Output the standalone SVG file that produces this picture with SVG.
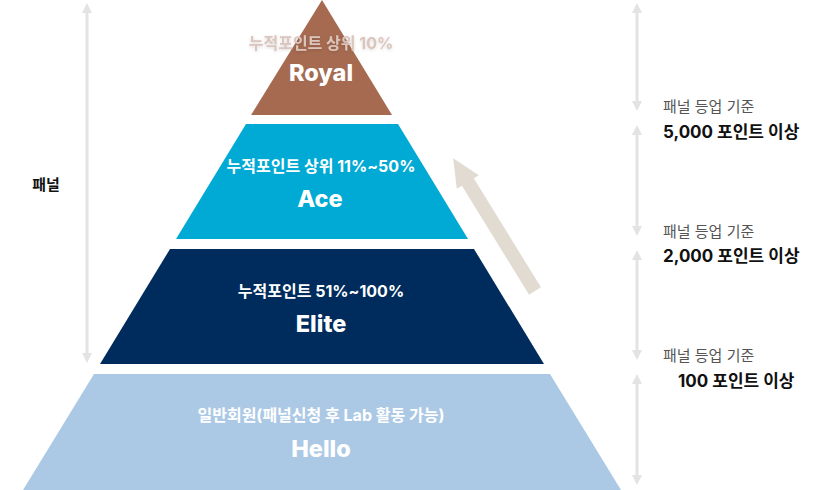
<svg xmlns="http://www.w3.org/2000/svg" width="823" height="490" viewBox="0 0 823 490">
<defs>
<marker id="ah" viewBox="0 0 10 10" refX="5" refY="5" markerWidth="14" markerHeight="10" markerUnits="userSpaceOnUse" orient="auto-start-reverse">
<path d="M0,0 L10,5 L0,10 z" fill="#e3e3e3"/>
</marker>
<filter id="sh" x="-10%" y="-50%" width="120%" height="200%"><feDropShadow dx="0" dy="1" stdDeviation="1.5" flood-color="#000" flood-opacity="0.15"/></filter>
</defs>
<style>
.t{font-family:Inter,"Noto Sans CJK KR",sans-serif;font-weight:700;text-anchor:middle;fill:#fff}
.s{font-size:16px}
.b{font-size:23.5px;font-weight:800}
.g{font-family:Inter,"Noto Sans CJK KR",sans-serif;font-size:15px;fill:#555}
.k{font-family:Inter,"Noto Sans CJK KR",sans-serif;font-size:17px;font-weight:700;fill:#111}
.ln{stroke:#e3e3e3;stroke-width:3;fill:none}
</style>
<rect width="823" height="490" fill="#fff"/>
<g id="connectors">
<line class="ln" x1="87" y1="8" x2="87" y2="358" marker-start="url(#ah)" marker-end="url(#ah)"/>
<line class="ln" x1="637" y1="8" x2="637" y2="106" marker-start="url(#ah)" marker-end="url(#ah)"/>
<line class="ln" x1="637" y1="130" x2="637" y2="231" marker-start="url(#ah)" marker-end="url(#ah)"/>
<line class="ln" x1="637" y1="255" x2="637" y2="355" marker-start="url(#ah)" marker-end="url(#ah)"/>
<line class="ln" x1="637" y1="379" x2="637" y2="480" marker-start="url(#ah)" marker-end="url(#ah)"/>
<polygon transform="translate(535,291) rotate(-121.65)" points="0,-7 128,-7 128,-13 156,0 128,13 128,7 0,7" fill="#e2dbd2"/>
</g>
<g id="royal">
<polygon points="322,0 392,115 251,115" fill="#a56a50"/>
<text class="t s" x="321" y="49" style="fill:#dcc5bd" filter="url(#sh)">누적포인트 상위 10%</text>
<text class="t b" x="321" y="81">Royal</text>
</g>
<g id="ace">
<polygon points="246,124 398,124 468,239 176,239" fill="#00aad4"/>
<text class="t s" x="321" y="172">누적포인트 상위 11%~50%</text>
<text class="t b" x="320" y="207">Ace</text>
</g>
<g id="elite">
<polygon points="170,249 474,249 544,364 100,364" fill="#002b5d"/>
<text class="t s" x="321" y="297">누적포인트 51%~100%</text>
<text class="t b" x="321" y="332">Elite</text>
</g>
<g id="hello">
<polygon points="94,374 550,374 621,490 23,490" fill="#abc9e5"/>
<text class="t s" x="321" y="421">일반회원(패널신청 후 Lab 활동 가능)</text>
<text class="t b" x="321" y="457">Hello</text>
</g>
<g id="labels">
<text class="k" x="46" y="190" text-anchor="middle" style="font-size:15px">패널</text>
<text class="g" x="663" y="112">패널 등업 기준</text>
<text class="k" x="663" y="138">5,000 포인트 이상</text>
<text class="g" x="663" y="237">패널 등업 기준</text>
<text class="k" x="663" y="262">2,000 포인트 이상</text>
<text class="g" x="663" y="361">패널 등업 기준</text>
<text class="k" x="678" y="387">100 포인트 이상</text>
</g>
</svg>
